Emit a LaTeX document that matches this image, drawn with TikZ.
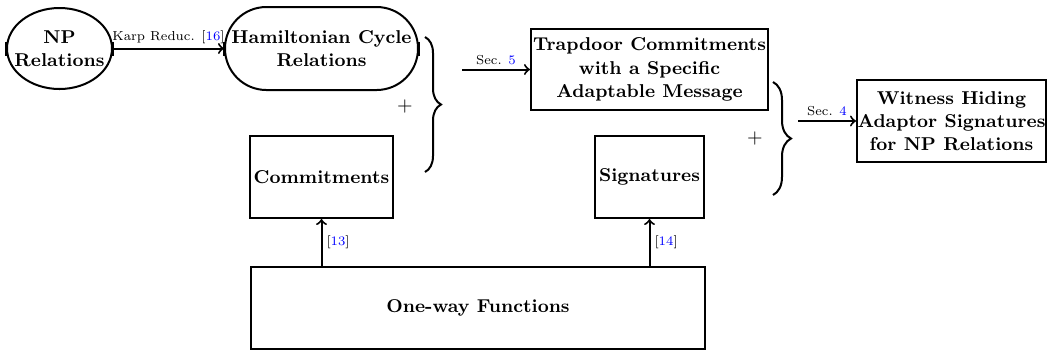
\documentclass[tikz,border=0pt]{standalone}
\usetikzlibrary{shapes.geometric,decorations.pathreplacing}
\begin{document}
\begin{tikzpicture}[x=0.5pt,y=-0.5pt,
  every path/.style={line width=1pt},
  bigfont/.style={font=\fontsize{9.3pt}{11.6pt}\selectfont\bfseries},
  box/.style={draw,rectangle,align=center,bigfont,inner sep=0pt},
  txt/.style={align=center,bigfont,inner sep=0pt},
  lbl/.style={font=\fontsize{6.5pt}{8pt}\selectfont,inner sep=2pt},
  conn/.style={->},
  tick/.style={},
  bracey/.style={decorate,decoration={brace,amplitude=#1}}
]
\useasboundingbox (0,0) rectangle (1049,350);

% relation shapes
\node[draw,ellipse,inner sep=0pt,minimum width=52.5pt,minimum height=40.5pt] (np) at (59.5,48.5) {};
\node[txt] (nptext) at (np.center) {NP\\Relations};
\draw[tick] (np.west) ++(0,-7) -- ++(0,14);
\draw[tick] (np.east) ++(0,-7) -- ++(0,14);

\node[draw,rectangle,rounded corners=20.7pt,inner sep=0pt,minimum width=96.5pt,minimum height=41.5pt] (ham) at (321.5,48.5) {};
\node[txt] (hamtext) at (ham.center) {Hamiltonian Cycle\\Relations};
\draw[tick] (ham.west) ++(0,-7) -- ++(0,14);
\draw[tick] (ham.east) ++(0,-7) -- ++(0,14);

% building blocks
\node[box,minimum width=71.5pt,minimum height=41pt] (com) at (321.5,177) {Commitments};
\node[box,minimum width=54.5pt,minimum height=41pt] (sig) at (649.5,177) {Signatures};
\node[box,minimum width=227pt,minimum height=41pt] (owf) at (478,308) {One-way Functions};

% constructions
\node[box,minimum width=118.5pt,minimum height=40.5pt] (tc) at (649.5,69.5) {Trapdoor Commitments\\with a Specific\\Adaptable Message};
\node[box,minimum width=94.5pt,minimum height=41pt] (wh) at (951.5,121) {Witness Hiding\\Adaptor Signatures\\for NP Relations};

% plus signs
\node (plusA) at (405,106) {$+$};
\node (plusB) at (755,138) {$+$};

% braces
\coordinate (bAtop) at (425,37);
\coordinate (bAbot) at (425,172);
\draw[bracey=8pt] (bAtop) -- (bAbot);
\coordinate (bBtop) at (773,82);
\coordinate (bBbot) at (773,195);
\draw[bracey=9pt] (bBtop) -- (bBbot);

% arrows
\draw[conn] (np.east) -- (ham.west) node[midway,above,lbl] {Karp Reduc. [\textcolor{blue}{16}]};
\coordinate (secA) at (462,69.5);
\draw[conn] (secA) -- (tc.west) node[midway,above,lbl] {Sec. \textcolor{blue}{5}};
\coordinate (secB) at (798,121);
\draw[conn] (secB) -- (wh.west) node[midway,above,lbl] {Sec. \textcolor{blue}{4}};
\draw[conn] (owf.north -| com.south) -- (com.south) node[midway,right,lbl] {[\textcolor{blue}{13}]};
\draw[conn] (owf.north -| sig.south) -- (sig.south) node[midway,right,lbl] {[\textcolor{blue}{14}]};
\end{tikzpicture}
\end{document}
